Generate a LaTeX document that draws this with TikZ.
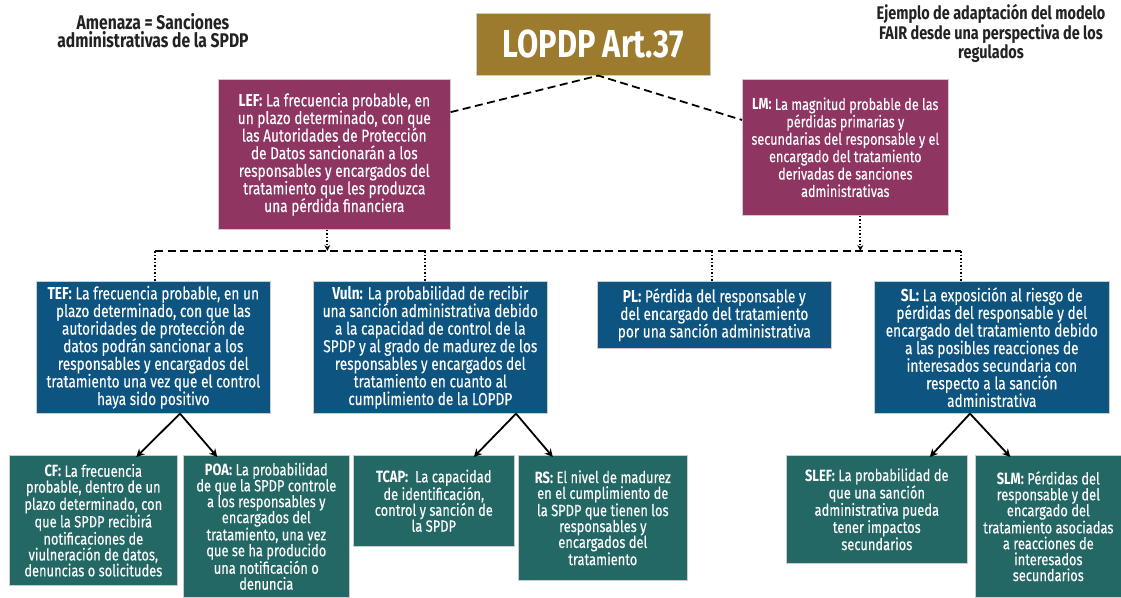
\documentclass[tikz,border=0pt]{standalone}
\usepackage{fontspec}
\setmainfont{Fira Sans}[FakeStretch=0.79, UprightFeatures={FakeBold=0.3}]
\usetikzlibrary{arrows.meta,calc}
\definecolor{cpurple}{HTML}{8E3562}
\definecolor{cblue}{HTML}{0D5480}
\definecolor{cteal}{HTML}{246866}
\definecolor{cgold}{HTML}{9C7A2E}
\definecolor{ctxt}{HTML}{222222}
\begin{document}
\begin{tikzpicture}[x=1pt,y=-1pt,
  boxstyle/.style={anchor=north west, inner sep=0pt, align=center, text=white,
    draw=white!80!black, line width=0.6pt},
  midtext/.style={font=\fontsize{17.3}{17.6}\selectfont},
  lmtext/.style={font=\fontsize{16}{17.4}\selectfont},
  lowtext/.style={font=\fontsize{16.3}{15.9}\selectfont},
  dashline/.style={line width=1.8pt, dash pattern=on 8pt off 4.5pt},
  dotline/.style={line width=1.8pt, dash pattern=on 1.5pt off 2pt},
  tipd/.style={-{Stealth[length=6pt,width=6pt]}},
  arr/.style={line width=1.8pt, -{Stealth[length=8pt,width=8pt]}}]
\fill[white] (0,0) rectangle (1121,597);
\useasboundingbox (0,0) rectangle (1121,597);

% headings
\node[font=\bfseries\fontsize{19.8}{18}\selectfont, text=ctxt, align=center] (amen) at (153,31)
  {Amenaza = Sanciones\\administrativas de la SPDP};
\node[font=\bfseries\fontsize{18.3}{16}\selectfont, text=ctxt, align=center] (ejem) at (991,33)
  {Ejemplo de adaptación del modelo\\FAIR desde una perspectiva de los\\regulados};

% title
\node[boxstyle, fill=cgold, minimum width=234pt, minimum height=62pt,
  font=\bfseries\fontsize{39}{39}\selectfont] (title) at (476,13) {LOPDP Art.37};

% level 1
\node[boxstyle, midtext, fill=cpurple, minimum width=232pt, minimum height=150pt] (lef) at (218,79)
  {\textbf{LEF:} La frecuencia probable, en\\un plazo determinado, con que\\las Autoridades de Protección\\de Datos sancionarán a los\\responsables y encargados del\\tratamiento que les produzca\\una pérdida financiera};
\node[boxstyle, lmtext, fill=cpurple, minimum width=206pt, minimum height=136pt] (lm) at (742,79)
  {\textbf{LM:} La magnitud probable de las\\pérdidas primarias y\\secundarias del responsable y el\\encargado del tratamiento\\derivadas de sanciones\\administrativas};

% level 2
\node[boxstyle, midtext, fill=cblue, minimum width=234pt, minimum height=132pt] (tef) at (36,281)
  {\textbf{TEF:} La frecuencia probable, en un\\plazo determinado, con que las\\autoridades de protección de\\datos podrán sancionar a los\\responsables y encargados del\\tratamiento una vez que el control\\haya sido positivo};
\node[boxstyle, midtext, fill=cblue, minimum width=234pt, minimum height=132pt] (vuln) at (313,281)
  {\textbf{Vuln:} La probabilidad de recibir\\una sanción administrativa debido\\a la capacidad de control de la\\SPDP y al grado de madurez de los\\responsables y encargados del\\tratamiento en cuanto al\\cumplimiento de la LOPDP};
\node[boxstyle, midtext, fill=cblue, minimum width=234pt, minimum height=67pt] (pl) at (597,281)
  {\textbf{PL:} Pérdida del responsable y\\del encargado del tratamiento\\por una sanción administrativa};
\node[boxstyle, midtext, fill=cblue, minimum width=235pt, minimum height=132pt] (sl) at (874,281)
  {\textbf{SL:} La exposición al riesgo de\\pérdidas del responsable y del\\encargado del tratamiento debido\\a las posibles reacciones de\\interesados secundaria con\\respecto a la sanción\\administrativa};

% level 3
\node[boxstyle, lowtext, fill=cteal, minimum width=168pt, minimum height=130pt] (cf) at (9,455)
  {\textbf{CF:} La frecuencia\\probable, dentro de un\\plazo determinado, con\\que la SPDP recibirá\\notificaciones de\\viulneración de datos,\\denuncias o solicitudes};
\node[boxstyle, lowtext, fill=cteal, minimum width=166pt, minimum height=142pt] (poa) at (183,455)
  {\textbf{POA:} La probabilidad\\de que la SPDP controle\\a los responsables y\\encargados del\\tratamiento, una vez\\que se ha producido\\una notificación o\\denuncia};
\node[boxstyle, lowtext, fill=cteal, minimum width=161pt, minimum height=91pt] (tcap) at (353,455)
  {\textbf{TCAP:}\ \ La capacidad\\de identificación,\\control y sanción de\\la SPDP};
\node[boxstyle, lowtext, fill=cteal, minimum width=169pt, minimum height=125pt] (rs) at (518,455)
  {\textbf{RS:} El nivel de madurez\\en el cumplimiento de\\la SPDP que tienen los\\responsables y\\encargados del\\tratamiento};
\node[boxstyle, lowtext, fill=cteal, minimum width=181pt, minimum height=108pt] (slef) at (786,455)
  {\textbf{SLEF:} La probabilidad de\\que una sanción\\administrativa pueda\\tener impactos\\secundarios};
\node[boxstyle, lowtext, fill=cteal, minimum width=146pt, minimum height=142pt] (slm) at (975,455)
  {\textbf{SLM:} Pérdidas del\\responsable y del\\encargado del\\tratamiento asociadas\\a reacciones de\\interesados\\secundarios};

% top dashed connectors
\coordinate (apex) at ([xshift=5pt]title.south);
\draw[dashline] ($(lef.north east)!0.22!(lef.south east)$) -- (apex) -- ($(lm.north west)!0.3!(lm.south west)$);

% bus
\coordinate (busL) at (155,251);
\coordinate (busR) at (961,251);
\draw[dashline] (busL) -- (busR);
\draw[dotline, tipd] ([xshift=-7pt]lef.south) -- ([xshift=-7pt]lef.south |- busL);
\draw[dotline, tipd] ([xshift=15pt]lm.south) -- ([xshift=15pt]lm.south |- busL);
\draw[dotline] (busL) -- (busL |- tef.north);
\draw[dotline] ([xshift=-5pt]vuln.north |- busL) -- ([xshift=-5pt]vuln.north);
\draw[dotline] ([xshift=-2pt]pl.north |- busL) -- ([xshift=-2pt]pl.north);
\draw[dotline] (busR) -- (busR |- sl.north);

% solid arrows
\coordinate (a1) at (tef.south -| 180,0);
\coordinate (a2) at (vuln.south -| 516,0);
\coordinate (a3) at (sl.south -| 970,0);
\draw[arr] (a1) -- ([xshift=43pt,yshift=-2pt]cf.north);
\draw[arr] (a1) -- ([xshift=-49pt,yshift=-2pt]poa.north);
\draw[arr] (a2) -- ([xshift=40pt,yshift=-2pt]tcap.north);
\draw[arr] (a2) -- ([xshift=-50pt,yshift=-2pt]rs.north);
\draw[arr] (a3) -- ([xshift=53pt,yshift=-2pt]slef.north);
\draw[arr] (a3) -- ([xshift=-38pt,yshift=-2pt]slm.north);
\end{tikzpicture}
\end{document}
